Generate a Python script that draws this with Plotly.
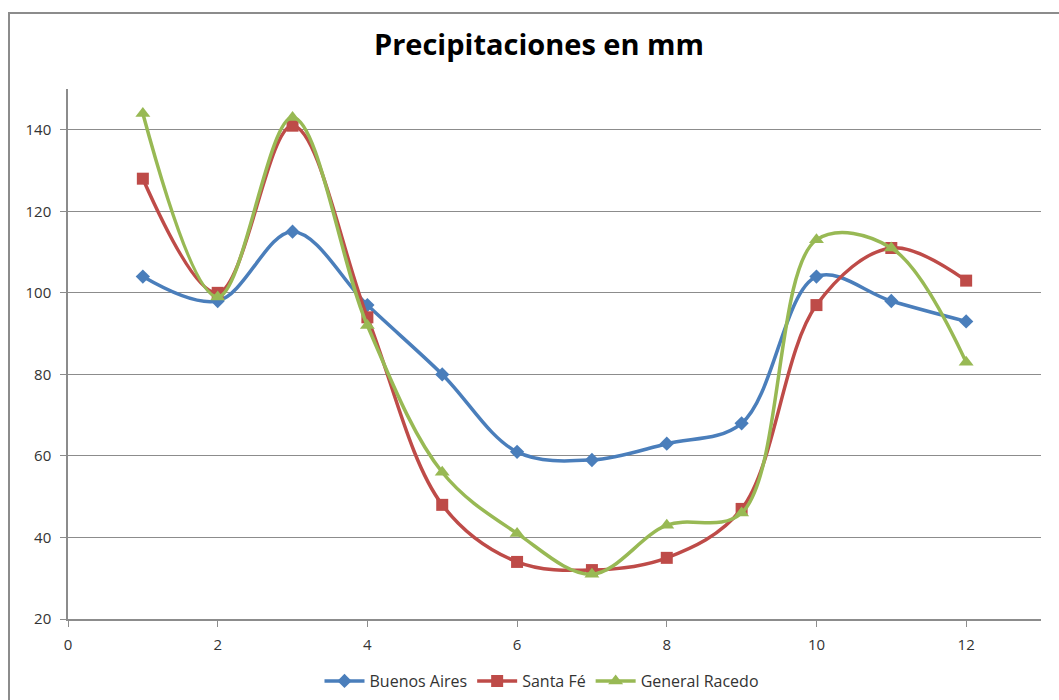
import plotly.graph_objects as go

# Monthly precipitation (mm) for three locations
meses = [1, 2, 3, 4, 5, 6, 7, 8, 9, 10, 11, 12]
buenos_aires = [104, 98, 115, 97, 80, 61, 59, 63, 68, 104, 98, 93]
santa_fe = [128, 100, 141, 94, 48, 34, 32, 35, 47, 97, 111, 103]
general_racedo = [144, 99, 143, 92, 56, 41, 31, 43, 46, 113, 111, 83]

x_ticks = [0, 2, 4, 6, 8, 10, 12]
y_ticks = [20, 40, 60, 80, 100, 120, 140]

series = [
    ("Buenos Aires", buenos_aires, "#4A7EBB", "diamond", 11),
    ("Santa Fé", santa_fe, "#BE4B48", "square", 12),
    ("General Racedo", general_racedo, "#98B954", "triangle-up", 13),
]

fig = go.Figure()
for name, vals, color, symbol, size in series:
    fig.add_trace(go.Scatter(
        x=meses, y=vals, name=name, mode="lines+markers",
        line=dict(color=color, width=3.5, shape="spline", smoothing=1.0),
        marker=dict(symbol=symbol, size=size, color=color),
    ))

W, H = 1059, 700
ml, mr, mt, mb = 68, 18, 89, 81
pw, ph = W - ml - mr, H - mt - mb

def px_x(p):
    return (p - ml) / pw

def px_y(p):
    return 1 - (p - mt) / ph

font = "'Open Sans', sans-serif"

fig.update_layout(
    width=W, height=H,
    margin=dict(l=ml, r=mr, t=mt, b=mb, autoexpand=False),
    paper_bgcolor="white", plot_bgcolor="white",
    title=dict(
        text="<b>Precipitaciones en mm</b>",
        x=px_x(539), xref="paper", xanchor="center",
        y=1 - 45 / H, yanchor="middle",
        font=dict(family=font, size=29, color="#000000"),
    ),
    xaxis=dict(
        range=[0, 13], tickvals=x_ticks, showgrid=False, zeroline=False,
        showline=True, linecolor="#8C8C8C", linewidth=1.5,
        ticks="outside", ticklen=6, tickcolor="#8C8C8C",
        ticklabelstandoff=5,
        tickfont=dict(family=font, size=15, color="#333333"),
    ),
    yaxis=dict(
        range=[20, 150], tickvals=y_ticks, showgrid=True,
        gridcolor="#8C8C8C", gridwidth=1, zeroline=False,
        showline=True, linecolor="#8C8C8C", linewidth=1.5,
        ticks="outside", ticklen=6, tickcolor="#8C8C8C",
        ticklabelstandoff=6,
        tickfont=dict(family=font, size=15, color="#333333"),
    ),
    legend=dict(
        orientation="h", x=px_x(542), xanchor="center",
        y=px_y(681), yanchor="middle",
        font=dict(family=font, size=16, color="#333333"),
        itemwidth=40, tracegroupgap=0,
    ),
    shapes=[dict(
        type="rect", xref="paper", yref="paper",
        x0=px_x(9), x1=px_x(1070), y0=px_y(710), y1=px_y(13),
        line=dict(color="#8C8C8C", width=2), layer="below",
    )],
)

fig.write_html("out.html")
